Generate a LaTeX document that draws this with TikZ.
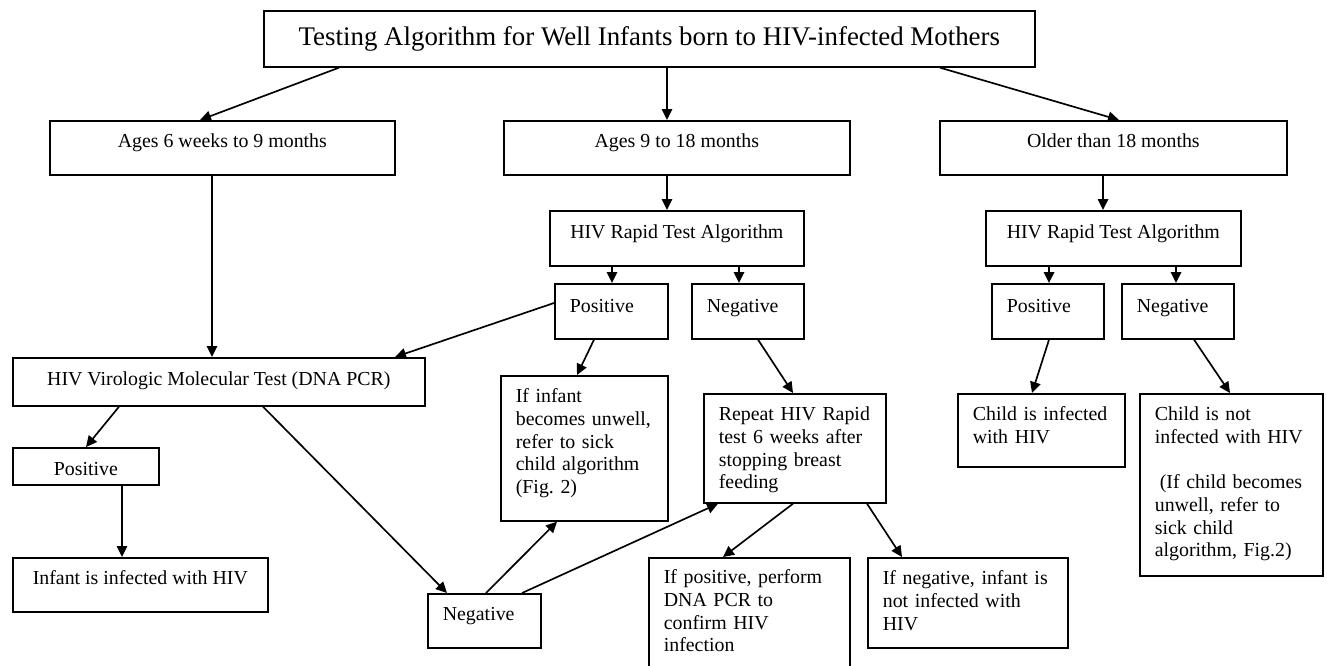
\documentclass[tikz,border=0pt]{standalone}
\usepackage{fontspec}
\setmainfont{Liberation Serif}
\usepackage{tikz}
\usetikzlibrary{arrows.meta,calc,positioning}
\frenchspacing

\begin{document}
\begin{tikzpicture}[
      box/.style={draw, line width=0.95pt, anchor=north west, inner ysep=0pt, text height=0.54cm, font=\fontsize{11.3}{12.9}\selectfont},
      cbox/.style={box, align=center},
      lbox/.style={box, inner xsep=0.3cm, align=left},
      arrow/.style={-{Triangle[length=0.22cm, width=0.21cm]}, line width=0.95pt},
    ]
    \clip (0,0) rectangle (26.54,-13.30);
    % title and age groups
    \node [cbox, minimum width=15.42cm, text height=0.69cm, text depth=0.43cm, font=\fontsize{15.3}{18}\selectfont] (title) at (5.26,-0.20) {Testing Algorithm for Well Infants born to HIV-infected Mothers};
    \node [cbox, minimum width=6.90cm, text depth=0.54cm] (ages6) at (0.98,-2.40) {Ages 6 weeks to 9 months};
    \node [cbox, minimum width=6.92cm, text depth=0.54cm] (ages9) at (10.06,-2.40) {Ages 9 to 18 months};
    \node [cbox, minimum width=6.94cm, text depth=0.54cm] (older) at (18.78,-2.40) {Older than 18 months};
    % rapid tests
    \node [cbox, minimum width=5.08cm, text height=0.56cm, text depth=0.54cm] (rapid9) at (10.98,-4.20) {HIV Rapid Test Algorithm};
    \node [cbox, minimum width=5.10cm, text height=0.56cm, text depth=0.54cm] (rapid18) at (19.70,-4.20) {HIV Rapid Test Algorithm};
    \node [lbox, text width=1.66cm, text height=0.57cm, text depth=0.53cm] (pos9) at (11.08,-5.66) {Positive};
    \node [lbox, text width=1.64cm, text height=0.57cm, text depth=0.53cm] (neg9) at (13.82,-5.66) {Negative};
    \node [lbox, text width=1.64cm, text height=0.57cm, text depth=0.53cm] (pos18) at (19.82,-5.66) {Positive};
    \node [lbox, text width=1.64cm, text height=0.57cm, text depth=0.53cm] (neg18) at (22.42,-5.66) {Negative};
    % DNA PCR branch
    \node [cbox, minimum width=8.24cm, text height=0.56cm, text depth=0.40cm] (pcr) at (0.24,-7.14) {HIV Virologic Molecular Test (DNA PCR)};
    \node [cbox, minimum width=2.92cm, text height=0.56cm, text depth=0.18cm] (pcrpos) at (0.24,-8.94) {Positive};
    \node [cbox, minimum width=5.10cm, text depth=0.54cm] (infected) at (0.24,-11.14) {Infant is infected with HIV};
    \node [lbox, text width=1.66cm, text depth=0.54cm] (pcrneg) at (8.54,-11.86) {Negative};
    % outcomes
    \node [lbox, text width=2.74cm, text depth=2.36cm] (unwell) at (10.00,-7.50) {If infant\\becomes unwell,\\refer to sick\\child algorithm\\(Fig. 2)};
    \node [lbox, text width=3.04cm, text depth=1.64cm] (repeat) at (14.06,-7.86) {Repeat HIV Rapid\\test 6 weeks after\\stopping breast\\feeding};
    \node [lbox, text width=3.42cm, text height=0.52cm, text depth=2.30cm] (confirm) at (12.96,-11.14) {If positive, perform\\DNA PCR to\\confirm HIV\\infection};
    \node [lbox, text width=3.40cm, text depth=1.26cm] (notinf) at (17.34,-11.14) {If negative, infant is\\not infected with\\HIV};
    \node [lbox, text width=2.74cm, text depth=0.92cm] (childinf) at (19.14,-7.86) {Child is infected\\with HIV};
    \node [lbox, text width=3.06cm, text depth=3.10cm] (childnot) at (22.78,-7.86) {Child is not\\infected with HIV\\[12.9pt]\hspace*{0.25em}(If child becomes\\unwell, refer to\\sick child\\algorithm, Fig.2)};

    \draw [arrow] ([xshift=1.52cm]title.south west) -- ([xshift=3.02cm]ages6.north west);
    \draw [arrow] ([xshift=8.08cm]title.south west) -- ([xshift=3.28cm]ages9.north west);
    \draw [arrow] ([xshift=13.54cm]title.south west) -- ([xshift=3.60cm]older.north west);
    \draw [arrow] ([xshift=3.28cm]ages9.south west) -- ([xshift=2.36cm]rapid9.north west);
    \draw [arrow] ([xshift=3.28cm]older.south west) -- ([xshift=2.36cm]rapid18.north west);
    \draw [arrow] ([xshift=3.26cm]ages6.south west) -- ([xshift=4.00cm]pcr.north west);
    \draw [arrow] ([xshift=1.26cm]rapid9.south west) -- ([xshift=1.16cm]pos9.north west);
    \draw [arrow] ([xshift=3.80cm]rapid9.south west) -- ([xshift=0.96cm]neg9.north west);
    \draw [arrow] ([xshift=1.28cm]rapid18.south west) -- ([xshift=1.16cm]pos18.north west);
    \draw [arrow] ([xshift=3.82cm]rapid18.south west) -- ([xshift=1.10cm]neg18.north west);
    \draw [arrow] ([yshift=-0.40cm]pos9.north west) -- ([xshift=7.66cm]pcr.north west);
    \draw [arrow] ([xshift=0.80cm]pos9.south west) -- ([xshift=1.54cm]unwell.north west);
    \draw [arrow] ([xshift=1.34cm]neg9.south west) -- ([xshift=1.80cm]repeat.north west);
    \draw [arrow] ([xshift=2.14cm]pcr.south west) -- ([xshift=1.48cm]pcrpos.north west);
    \draw [arrow] ([xshift=2.20cm]pcrpos.south west) -- ([xshift=2.20cm]infected.north west);
    \draw [arrow] ([xshift=5.02cm]pcr.south west) -- ([xshift=0.40cm]pcrneg.north west);
    \draw [arrow] ([xshift=1.18cm]pcrneg.north west) -- ([xshift=1.14cm]unwell.south west);
    \draw [arrow] ([xshift=1.90cm]pcrneg.north west) -- ([xshift=0.30cm]repeat.south west);
    \draw [arrow] ([xshift=1.80cm]repeat.south west) -- ([xshift=1.50cm]confirm.north west);
    \draw [arrow] ([xshift=3.28cm]repeat.south west) -- ([xshift=0.70cm]notinf.north west);
    \draw [arrow] ([xshift=1.16cm]pos18.south west) -- ([xshift=1.50cm]childinf.north west);
    \draw [arrow] ([xshift=1.46cm]neg18.south west) -- ([xshift=1.82cm]childnot.north west);
  \end{tikzpicture}
\end{document}
